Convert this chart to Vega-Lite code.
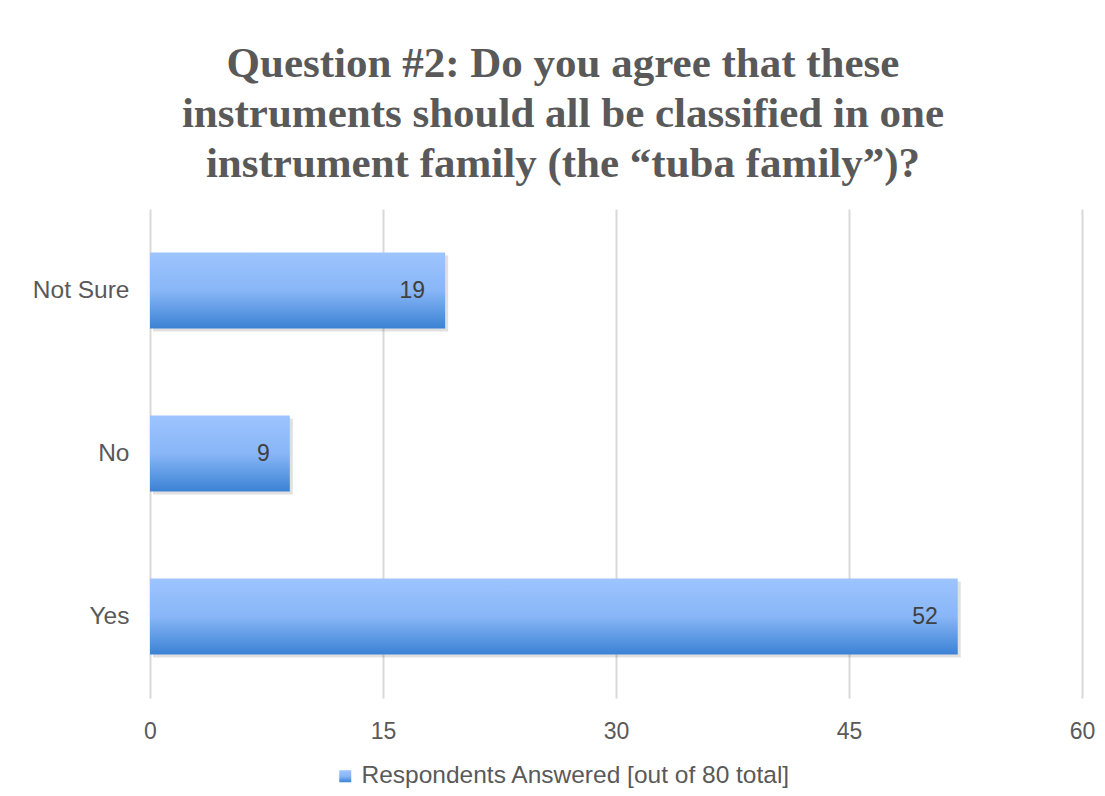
{
  "$schema": "https://vega.github.io/schema/vega-lite/v6.json",
  "autosize": {"type": "none"},
  "width": 932,
  "height": 489,
  "padding": {"left": 150, "top": 209, "right": 23, "bottom": 98},
  "background": "white",
  "title": {
    "text": ["Question #2: Do you agree that these", "instruments should all be classified in one", "instrument family (the “tuba family”)?"],
    "font": "Liberation Serif",
    "fontSize": 43,
    "fontWeight": "bold",
    "color": "#595959",
    "lineHeight": 50,
    "anchor": "middle",
    "dx": -53,
    "offset": 23
  },
  "data": {
    "values": [
      {"answer": "Not Sure", "count": 19, "series": "Respondents Answered [out of 80 total]"},
      {"answer": "No", "count": 9, "series": "Respondents Answered [out of 80 total]"},
      {"answer": "Yes", "count": 52, "series": "Respondents Answered [out of 80 total]"}
    ]
  },
  "encoding": {
    "y": {
      "field": "answer",
      "type": "nominal",
      "sort": ["Not Sure", "No", "Yes"],
      "scale": {"paddingInner": 0.534, "paddingOuter": 0.267},
      "axis": {
        "title": null,
        "domain": false,
        "ticks": false,
        "grid": false,
        "labelFont": "Liberation Sans",
        "labelFontSize": 24.5,
        "labelColor": "#595959",
        "labelPadding": 21
      }
    },
    "x": {
      "field": "count",
      "type": "quantitative",
      "scale": {"domain": [0, 60], "nice": false},
      "axis": {
        "title": null,
        "values": [0, 15, 30, 45, 60],
        "domain": false,
        "ticks": false,
        "grid": true,
        "gridColor": "#d9d9d9",
        "gridWidth": 2,
        "labelFlush": false,
        "labelFont": "Liberation Sans",
        "labelFontSize": 23,
        "labelColor": "#595959",
        "labelPadding": 22
      }
    }
  },
  "layer": [
    {
      "mark": {"type": "bar", "color": "#000000", "opacity": 0.12, "xOffset": 3, "yOffset": 3, "cornerRadius": 0}
    },
    {
      "mark": {"type": "bar", "strokeWidth": 0, "color": {"gradient": "linear", "x1": 0, "y1": 0, "x2": 0, "y2": 1, "stops": [{"offset": 0, "color": "#9DC4FE"}, {"offset": 0.5, "color": "#88B6F7"}, {"offset": 1, "color": "#3B82D4"}]}},
      "encoding": {
        "stroke": {
          "field": "series",
          "type": "nominal",
          "scale": {"range": ["#6AA5EE"]},
          "legend": {
            "title": null,
            "orient": "none",
            "legendX": 183,
            "legendY": 555,
            "symbolType": "square",
            "symbolSize": 144,
            "symbolFillColor": "#6AA5EE",
            "symbolStrokeWidth": 0,
            "labelFont": "Liberation Sans",
            "labelFontSize": 24.5,
            "labelColor": "#595959",
            "labelOffset": 4,
            "labelLimit": 0
          }
        }
      }
    },
    {
      "mark": {"type": "text", "align": "right", "dx": -20, "font": "Liberation Sans", "fontSize": 23, "color": "#404040"},
      "encoding": {"text": {"field": "count", "type": "quantitative"}}
    }
  ],
  "config": {"view": {"stroke": null}}
}
